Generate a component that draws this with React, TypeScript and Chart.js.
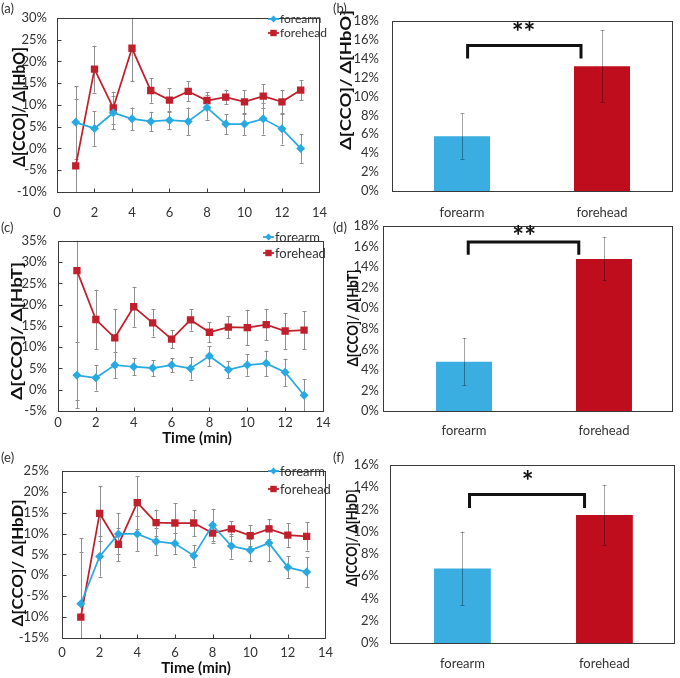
import React, { useEffect, useRef } from "react";
import { Chart, registerables } from "chart.js";
Chart.register(...registerables);

const FONT = "Lato, 'Open Sans', sans-serif";
const TEXT = "#333333";
const BLUE_LINE = "#29a9e1";
const RED_LINE = "#c0202c";
const BLUE_BAR = "#3aaee0";
const RED_BAR = "#c00d1e";

// ---------- data ----------
const timeMin = [1, 2, 3, 4, 5, 6, 7, 8, 9, 10, 11, 12, 13];
const timeTicks = [0, 2, 4, 6, 8, 10, 12, 14];
const sites = ["forearm", "forehead"];

// (a) Δ[CCO]/Δ[HbO] over time (%)
const hboForearm = [6.0, 4.6, 8.2, 6.8, 6.2, 6.5, 6.2, 9.4, 5.6, 5.6, 6.8, 4.5, 0.0];
const hboForearmErr = [8.4, 4.0, 3.8, 2.6, 2.2, 2.0, 3.2, 2.8, 2.3, 2.5, 3.6, 3.6, 3.3];
const hboForehead = [-4.0, 18.2, 9.3, 23.0, 13.3, 11.1, 13.1, 11.0, 11.8, 10.7, 12.0, 10.7, 13.4];
const hboForeheadErr = [15.3, 5.4, 3.7, 7.5, 2.8, 2.7, 2.3, 1.9, 1.7, 2.7, 2.7, 2.8, 2.3];

// (c) Δ[CCO]/Δ[HbT] over time (%)
const hbtForearm = [3.4, 2.8, 5.8, 5.4, 5.1, 5.8, 5.0, 7.9, 4.7, 5.8, 6.2, 4.1, -1.3];
const hbtForearmErr = [7.7, 3.0, 3.0, 2.0, 1.9, 1.7, 2.6, 2.3, 2.0, 2.5, 3.0, 3.2, 3.8];
const hbtForehead = [28.0, 16.5, 12.2, 19.5, 15.7, 11.9, 16.4, 13.5, 14.7, 14.6, 15.3, 13.8, 14.0];
const hbtForeheadErr = [30.3, 7.0, 6.8, 4.7, 3.2, 2.1, 2.5, 2.3, 2.6, 4.2, 3.7, 4.2, 4.5];

// (e) Δ[CCO]/Δ[HbD] over time (%)
const hbdForearm = [-6.8, 4.5, 9.9, 9.9, 8.1, 7.6, 4.7, 12.0, 7.0, 6.0, 7.7, 1.9, 0.8];
const hbdForearmErr = [12.4, 4.8, 4.9, 4.2, 3.2, 2.5, 2.6, 3.9, 3.0, 2.6, 4.3, 2.6, 3.6];
const hbdForehead = [-10.0, 14.8, 7.4, 17.4, 12.6, 12.5, 12.5, 10.1, 11.1, 9.5, 11.1, 9.6, 9.3];
const hbdForeheadErr = [18.9, 6.5, 4.0, 6.3, 3.1, 4.8, 3.1, 2.3, 1.8, 2.5, 2.4, 2.8, 3.4];

// (b), (d), (f) site means (%)
const hboSiteMean = [5.8, 13.2];
const hboSiteErr = [2.4, 3.8];
const hbtSiteMean = [4.8, 14.8];
const hbtSiteErr = [2.3, 2.1];
const hbdSiteMean = [6.7, 11.5];
const hbdSiteErr = [3.3, 2.7];

// ---------- drawing helpers ----------
type Box = { left: number; top: number; width: number; height: number };
type Area = { l: number; t: number; r: number; b: number };

function drawMarker(ctx: CanvasRenderingContext2D, style: string, x: number, y: number, r: number, color: string) {
  ctx.fillStyle = color;
  ctx.beginPath();
  if (style === "rectRot") {
    ctx.moveTo(x, y - r);
    ctx.lineTo(x + r, y);
    ctx.lineTo(x, y + r);
    ctx.lineTo(x - r, y);
  } else {
    ctx.rect(x - r, y - r, 2 * r, 2 * r);
  }
  ctx.closePath();
  ctx.fill();
}

function makeDecor(cfg: any) {
  const box: Box = cfg.box;
  const drawErrors = (chart: any) => {
    const ctx = chart.ctx;
    const ca = chart.chartArea;
    const ys = chart.scales.y;
    ctx.save();
    ctx.beginPath();
    ctx.rect(ca.left, ca.top, ca.right - ca.left, ca.bottom - ca.top);
    ctx.clip();
    ctx.strokeStyle = cfg.errColor;
    ctx.lineWidth = 1;
    cfg.series.forEach((s: any, di: number) => {
      const meta = chart.getDatasetMeta(di);
      s.values.forEach((v: number, j: number) => {
        const el = meta.data[j];
        if (!el) return;
        const x = Math.round(el.x) + 0.5;
        const y1 = ys.getPixelForValue(v + s.errs[j]);
        const y2 = ys.getPixelForValue(v - s.errs[j]);
        ctx.beginPath();
        ctx.moveTo(x, y1);
        ctx.lineTo(x, y2);
        ctx.moveTo(x - 2, Math.round(y1) + 0.5);
        ctx.lineTo(x + 2, Math.round(y1) + 0.5);
        ctx.moveTo(x - 2, Math.round(y2) + 0.5);
        ctx.lineTo(x + 2, Math.round(y2) + 0.5);
        ctx.stroke();
      });
    });
    ctx.restore();
  };
  return {
    id: "decor" + cfg.key,
    beforeDatasetsDraw(chart: any) {
      if (cfg.errBehind) drawErrors(chart);
    },
    afterDatasetsDraw(chart: any) {
      const ctx = chart.ctx;
      const ca = chart.chartArea;
      if (!cfg.errBehind) drawErrors(chart);
      // frame
      ctx.save();
      ctx.strokeStyle = "#3a3a3a";
      ctx.lineWidth = 1;
      const L = Math.round(ca.left) + 0.5;
      const T = Math.round(ca.top) + 0.5;
      const R = Math.round(ca.right) + 0.5;
      const B = Math.round(ca.bottom) + 0.5;
      ctx.strokeRect(L, T, R - L, B - T);
      if (cfg.innerTicks) {
        ctx.beginPath();
        chart.scales.y.ticks.forEach((t: any) => {
          const y = Math.round(chart.scales.y.getPixelForValue(t.value)) + 0.5;
          ctx.moveTo(L, y);
          ctx.lineTo(L + 4, y);
        });
        chart.scales.x.ticks.forEach((t: any) => {
          const x = Math.round(chart.scales.x.getPixelForValue(t.value)) + 0.5;
          ctx.moveTo(x, B);
          ctx.lineTo(x, B - 4);
        });
        ctx.stroke();
      }
      ctx.restore();
      // legend
      if (cfg.legend) {
        const lg = cfg.legend;
        ctx.save();
        ctx.font = `${lg.size}px ${FONT}`;
        ctx.textBaseline = "middle";
        ctx.textAlign = "left";
        cfg.series.forEach((s: any, k: number) => {
          const x = lg.x - box.left;
          const y = lg.y - box.top + k * lg.gap;
          ctx.strokeStyle = s.color;
          ctx.lineWidth = 1.75;
          ctx.beginPath();
          ctx.moveTo(x, y);
          ctx.lineTo(x + 11, y);
          ctx.stroke();
          drawMarker(ctx, s.style, x + 5.5, y, s.style === "rectRot" ? 3.5 : 3.2, s.color);
          ctx.fillStyle = TEXT;
          ctx.fillText(s.label, x + 12, y + 0.5);
        });
        ctx.restore();
      }
      // bracket + stars
      if (cfg.bracket) {
        const br = cfg.bracket;
        const xs = chart.scales.x;
        const ys = chart.scales.y;
        const xl = xs.getPixelForValue(br.x0);
        const xr = xs.getPixelForValue(br.x1);
        const yt = ys.getPixelForValue(br.top);
        const yl = ys.getPixelForValue(br.leg);
        ctx.save();
        ctx.strokeStyle = "#111";
        ctx.lineWidth = 3;
        ctx.lineJoin = "miter";
        ctx.beginPath();
        ctx.moveTo(xl, yl);
        ctx.lineTo(xl, yt);
        ctx.lineTo(xr, yt);
        ctx.lineTo(xr, yl);
        ctx.stroke();
        ctx.fillStyle = "#111";
        ctx.font = `bold ${br.size}px ${FONT}`;
        ctx.textAlign = "center";
        ctx.textBaseline = "alphabetic";
        ctx.fillText(br.stars, xs.getPixelForValue(br.starX), ys.getPixelForValue(br.starY));
        ctx.restore();
      }
      // y title
      if (cfg.yTitle) {
        const t = cfg.yTitle;
        ctx.save();
        ctx.font = `bold ${t.size}px ${FONT}`;
        ctx.fillStyle = "#111";
        ctx.textAlign = "center";
        ctx.textBaseline = "middle";
        const w = ctx.measureText(t.text).width;
        ctx.translate(t.x - box.left, t.y - box.top);
        ctx.rotate(-Math.PI / 2);
        ctx.scale(t.len / w, 1);
        ctx.fillText(t.text, 0, 0);
        ctx.restore();
      }
      // x title
      if (cfg.xTitle) {
        const t = cfg.xTitle;
        ctx.save();
        ctx.font = `bold ${t.size}px ${FONT}`;
        ctx.fillStyle = "#111";
        ctx.textAlign = "center";
        ctx.textBaseline = "middle";
        ctx.fillText(t.text, t.x - box.left, t.y - box.top);
        ctx.restore();
      }
    },
  };
}

function buildConfig(cfg: any) {
  const box: Box = cfg.box;
  const area: Area = cfg.area;
  const tickFont = { family: FONT, size: 13 };
  const isLine = cfg.kind === "line";
  const datasets = isLine
    ? cfg.series.map((s: any) => ({
        label: s.label,
        data: timeMin.map((t, i) => ({ x: t, y: s.values[i] })),
        borderColor: s.color,
        backgroundColor: s.color,
        borderWidth: 1.75,
        pointStyle: s.style,
        pointRadius: s.style === "rectRot" ? 4.5 : 5.2,
        pointBorderWidth: 0,
        tension: 0,
      }))
    : [
        {
          label: "mean",
          data: sites.map((_, i) => ({ x: i, y: cfg.series[0].values[i] })),
          backgroundColor: [BLUE_BAR, RED_BAR],
          categoryPercentage: 1,
          barPercentage: 0.4,
        },
      ];
  return {
    type: isLine ? "line" : "bar",
    data: { datasets },
    options: {
      responsive: false,
      animation: false,
      devicePixelRatio: 1,
      layout: {
        padding: {
          left: 0,
          bottom: 0,
          top: area.t - box.top,
          right: box.left + box.width - area.r,
        },
      },
      plugins: { legend: { display: false }, tooltip: { enabled: false } },
      scales: {
        x: {
          type: "linear",
          min: cfg.xMin,
          max: cfg.xMax,
          offset: false,
          grid: { display: false, drawTicks: false },
          border: { display: false },
          afterBuildTicks: (s: any) => {
            s.ticks = (isLine ? timeTicks : sites.map((_, i) => i)).map((v) => ({ value: v }));
          },
          ticks: {
            autoSkip: false,
            maxRotation: 0,
            padding: cfg.xPad,
            font: tickFont,
            color: TEXT,
            callback: (v: number) => (isLine ? String(v) : sites[v] ?? ""),
          },
          afterFit: (s: any) => {
            s.height = box.top + box.height - area.b;
          },
        },
        y: {
          type: "linear",
          min: cfg.yMin,
          max: cfg.yMax,
          grid: { display: false, drawTicks: false },
          border: { display: false },
          ticks: {
            stepSize: cfg.yStep,
            padding: cfg.yPad,
            font: tickFont,
            color: TEXT,
            callback: (v: number) => `${v}%`,
          },
          afterFit: (s: any) => {
            s.width = area.l - box.left;
          },
        },
      },
    },
    plugins: [makeDecor(cfg)],
  };
}

const lineSeries = (fa: number[], faErr: number[], fh: number[], fhErr: number[]) => [
  { label: "forearm", values: fa, errs: faErr, color: BLUE_LINE, style: "rectRot" },
  { label: "forehead", values: fh, errs: fhErr, color: RED_LINE, style: "rect" },
];

const panels: any[] = [
  {
    key: "a",
    kind: "line",
    box: { left: 0, top: 0, width: 340, height: 222 },
    area: { l: 57, t: 12, r: 324, b: 192 },
    xMin: 0, xMax: 14, yMin: -10, yMax: 30, yStep: 5, yPad: 10, xPad: 13,
    series: lineSeries(hboForearm, hboForearmErr, hboForehead, hboForeheadErr),
    errColor: "#8f8f8f", errBehind: true, innerTicks: true,
    legend: { x: 268, y: 19, gap: 14, size: 12 },
    yTitle: { text: "Δ[CCO]/ Δ[HbO]", x: 20, y: 107, size: 17, len: 120 },
  },
  {
    key: "b",
    kind: "bar",
    box: { left: 340, top: 0, width: 340, height: 222 },
    area: { l: 392, t: 12, r: 672, b: 191 },
    xMin: -0.5, xMax: 1.5, yMin: 0, yMax: 18, yStep: 2, yPad: 13, xPad: 14,
    series: [{ values: hboSiteMean, errs: hboSiteErr }],
    errColor: "rgba(0,0,0,0.35)", errBehind: false,
    bracket: { x0: 0.04, x1: 0.85, top: 15.4, leg: 14.0, stars: "**", starX: 0.44, starY: 15.75, size: 28 },
    yTitle: { text: "Δ[CCO]/ Δ[HbO]", x: 346, y: 80, size: 16, len: 140 },
  },
  {
    key: "c",
    kind: "line",
    box: { left: 0, top: 222, width: 340, height: 228 },
    area: { l: 58, t: 232, r: 323, b: 411 },
    xMin: 0, xMax: 14, yMin: -5, yMax: 35, yStep: 5, yPad: 11, xPad: 4,
    series: lineSeries(hbtForearm, hbtForearmErr, hbtForehead, hbtForeheadErr),
    errColor: "#8f8f8f", errBehind: true, innerTicks: true,
    legend: { x: 263, y: 237, gap: 16, size: 13 },
    yTitle: { text: "Δ[CCO]/ Δ[HbT]", x: 17, y: 331, size: 16, len: 138 },
    xTitle: { text: "Time (min)", x: 197, y: 438, size: 15 },
  },
  {
    key: "d",
    kind: "bar",
    box: { left: 340, top: 214, width: 340, height: 236 },
    area: { l: 383, t: 226, r: 672, b: 411 },
    xMin: -0.579, xMax: 1.486, yMin: 0, yMax: 18, yStep: 2, yPad: 4, xPad: 12,
    series: [{ values: hbtSiteMean, errs: hbtSiteErr }],
    errColor: "rgba(0,0,0,0.35)", errBehind: false,
    bracket: { x0: 0.03, x1: 0.82, top: 16.44, leg: 15.2, stars: "**", starX: 0.43, starY: 16.05, size: 28 },
    yTitle: { text: "Δ[CCO]/ Δ[HbT]", x: 353, y: 318, size: 15, len: 97 },
  },
  {
    key: "e",
    kind: "line",
    box: { left: 0, top: 450, width: 340, height: 228 },
    area: { l: 62, t: 460, r: 331, b: 638 },
    xMin: 0, xMax: 14, yMin: -15, yMax: 25, yStep: 5, yPad: 13, xPad: 7,
    series: lineSeries(hbdForearm, hbdForearmErr, hbdForehead, hbdForeheadErr),
    errColor: "#8f8f8f", errBehind: true, innerTicks: true,
    legend: { x: 268, y: 471, gap: 18, size: 13 },
    yTitle: { text: "Δ[CCO]/ Δ[HbD]", x: 18, y: 563, size: 15, len: 127 },
    xTitle: { text: "Time (min)", x: 196, y: 668, size: 15 },
  },
  {
    key: "f",
    kind: "bar",
    box: { left: 340, top: 446, width: 340, height: 232 },
    area: { l: 390, t: 457, r: 674, b: 643 },
    xMin: -0.51, xMax: 1.49, yMin: 0, yMax: 16, yStep: 2, yPad: 11, xPad: 13,
    series: [{ values: hbdSiteMean, errs: hbdSiteErr }],
    errColor: "rgba(0,0,0,0.35)", errBehind: false,
    bracket: { x0: 0.05, x1: 0.86, top: 13.33, leg: 12.13, stars: "*", starX: 0.46, starY: 13.65, size: 28 },
    yTitle: { text: "Δ[CCO]/ Δ[HbD]", x: 352, y: 538, size: 15, len: 97 },
  },
];

const panelLabels = [
  { text: "(a)", left: 1, top: 2 },
  { text: "(b)", left: 333, top: 2 },
  { text: "(c)", left: 1, top: 221 },
  { text: "(d)", left: 333, top: 221 },
  { text: "(e)", left: 1, top: 451 },
  { text: "(f)", left: 333, top: 451 },
];

function Panel({ cfg }: { cfg: any }) {
  const ref = useRef<HTMLCanvasElement | null>(null);
  useEffect(() => {
    if (!ref.current) return;
    const chart = new Chart(ref.current, buildConfig(cfg) as any);
    return () => chart.destroy();
  }, [cfg]);
  const b: Box = cfg.box;
  return (
    <canvas
      ref={ref}
      width={b.width}
      height={b.height}
      style={{ position: "absolute", left: b.left, top: b.top, width: b.width, height: b.height }}
    />
  );
}

export default function App() {
  return (
    <div style={{ position: "fixed", left: 0, top: 0, width: 680, height: 678, background: "#fff", overflow: "hidden" }}>
      {panels.map((p) => (
        <Panel key={p.key} cfg={p} />
      ))}
      {panelLabels.map((l) => (
        <div
          key={l.text}
          style={{ position: "absolute", left: l.left, top: l.top, fontFamily: FONT, fontSize: 13, lineHeight: "13px", color: TEXT }}
        >
          {l.text}
        </div>
      ))}
    </div>
  );
}
